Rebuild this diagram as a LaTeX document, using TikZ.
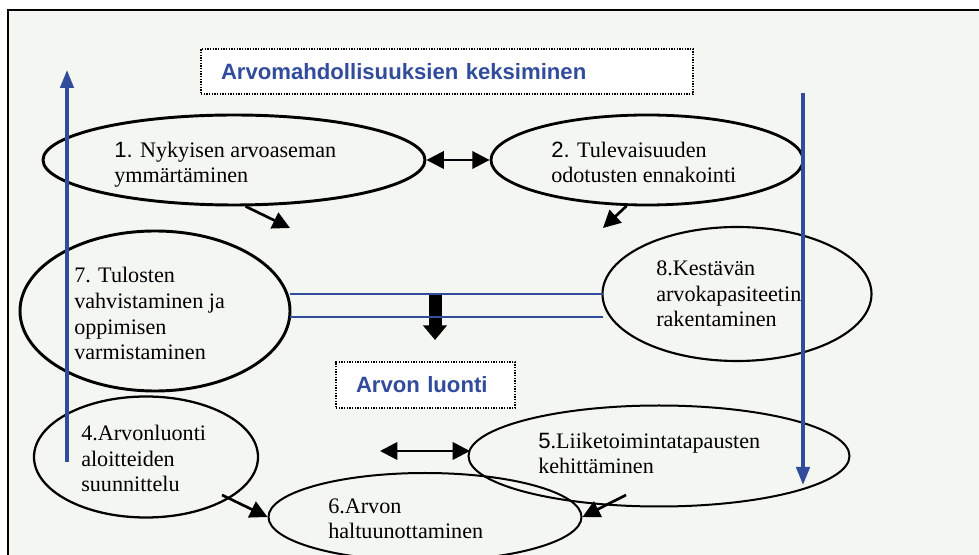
\documentclass[tikz,border=0pt]{standalone}
\usepackage{fontspec}
\setmainfont{Liberation Serif}
\newfontfamily\arialfont{Liberation Sans}
\usetikzlibrary{arrows.meta,shapes.geometric}
\definecolor{panelgray}{RGB}{244,246,242}
\definecolor{titleblue}{RGB}{50,76,156}

\begin{document}
\begin{tikzpicture}[x=0.75pt,y=-0.75pt,
  phase/.style n args={3}{draw=black,ellipse,line width=#3pt,minimum width=#1*0.75pt,minimum height=#2*0.75pt,inner sep=0pt},
  txt/.style={anchor=base west,inner sep=0pt,align=left,font=\fontsize{16.6}{19.4}\selectfont},
  heading/.style={draw=black,dash pattern=on 1.1pt off 0.9pt,line width=1.5pt,fill=white,anchor=north west,inner xsep=15pt,inner ysep=0pt,
    align=left,text=titleblue,font=\arialfont\bfseries\fontsize{16.6}{19}\selectfont},
  flow/.style={-{Triangle[length=13pt,width=13pt]},line width=2pt},
  twoway/.style={{Triangle[length=13pt,width=13pt]}-{Triangle[length=13pt,width=13pt]},line width=2pt},
  loopline/.style={draw=titleblue,line width=2.6pt,-{Triangle[length=13.5pt,width=10pt]}}]
  % Canvas and panel
  \useasboundingbox (0,0) rectangle (979,555);
  \clip (0,0) rectangle (979,555);
  \fill[white] (0,0) rectangle (979,555);
  \draw[fill=panelgray,line width=0.8pt] (8,10) rectangle (1000,580);
  % Phase headings
  \node[heading,text width=339pt,minimum height=33.75pt] (hfind) at (200,48) {Arvomahdollisuuksien keksiminen};
  \node[heading,text width=104.25pt,minimum height=34.5pt] (hcreate) at (335,361) {Arvon luonti};
  % Ellipses: name/centre x/centre y/width/height/stroke
  \foreach \name/\cx/\cy/\w/\h/\lw in {e1/234/160/382/90/2.2, e2/647/160/312/90/2.1, e7/155/311/270/160/2.2,
      e8/737/294/269/134/1.6, e4/146/457/224/121/1.7, e5/659/456/381/101/1.5, e6/425/517/313/88/1.5}
    {\node[phase={\w}{\h}{\lw}] (\name) at (\cx,\cy) {};}
  % Ellipse texts (placed at the baseline of their last line)
  \node[txt] (t1) at (114,183) {{\arialfont 1.} Nykyisen arvoaseman\\ymmärtäminen};
  \node[txt] (t2) at (551,183) {{\arialfont 2.} Tulevaisuuden\\odotusten ennakointi};
  \node[txt] (t7) at (74,360) {7. Tulosten\\vahvistaminen ja\\oppimisen\\varmistaminen};
  \node[txt] (t8) at (656,327) {8.Kestävän\\arvokapasiteetin\\rakentaminen};
  \node[txt] (t4) at (81,492) {4.Arvonluonti\\aloitteiden\\suunnittelu};
  \node[txt] (t5) at (538,474) {{\arialfont 5}.Liiketoimintatapausten\\kehittäminen};
  \node[txt] (t6) at (328,539) {6.Arvon\\haltuunottaminen};
  % Free ends of the black arrows
  \coordinate (a1) at (290,228);
  \coordinate (a2) at (603,228);
  \coordinate (s4) at (222,495);
  \coordinate (s5) at (626,495);
  \coordinate (m1) at (380,451);
  \coordinate (m2) at (470,451);
  % Black arrows
  \draw[twoway] (e1.east) -- (e2.west);
  \draw[flow] (e1.-76) -- (a1);
  \draw[flow] (e2.-114) -- (a2);
  \draw[twoway] (m1) -- (m2);
  \draw[flow] (s4) -- (e6.west);
  \draw[flow] (s5) -- (e6.east);
  % Link between 7 and 8, with the step down to value creation
  \draw[line width=9.75pt,-{Triangle[length=11pt,width=17.5pt]}] (435,293) -- (435,340);
  \foreach \y in {294,317}
    {\draw[titleblue,line width=1.1pt] (290,\y) -- (603,\y);}
  % Blue cycle arrows
  \draw[loopline] (67,462) -- (67,70);
  \draw[loopline] (803,93) -- (803,485);
\end{tikzpicture}
\end{document}
